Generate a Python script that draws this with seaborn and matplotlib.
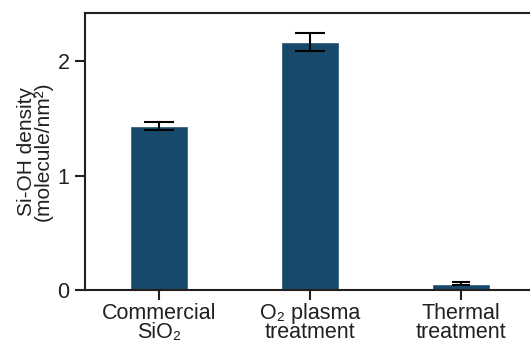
import matplotlib
matplotlib.use("Agg")
import matplotlib.pyplot as plt
import seaborn as sns
import pandas as pd

# Si-OH surface density for three silica treatments
categories = ["Commercial\nSiO\u2082", "O\u2082 plasma\ntreatment", "Thermal\ntreatment"]
density = [1.43, 2.17, 0.055]
density_err = [0.035, 0.078, 0.015]

bar_color = "#174a6a"
ink = "#231f20"
cap_sizes = [10.8, 10.8, 6.8]

sns.set_theme(style="ticks")
plt.rcParams["font.family"] = ["Liberation Sans", "DejaVu Sans"]

df = pd.DataFrame({"treatment": categories, "density": density})

fig = plt.figure(figsize=(5.30, 3.43), dpi=100)
ax = fig.add_axes([0.160, 0.1545, 0.840, 0.8075])

sns.barplot(data=df, x="treatment", y="density", color=bar_color,
            saturation=1, width=0.385, errorbar=None, ax=ax)
for i, (m, e, cs) in enumerate(zip(density, density_err, cap_sizes)):
    ax.errorbar(i, m, yerr=e, fmt="none", ecolor="black",
                elinewidth=1.5, capsize=cs, capthick=1.5)

ax.set_ylim(0, 2.42)
ax.set_xlim(-0.49, 2.46)
ax.set_yticks([0, 1, 2])
ax.set_xlabel("")
ax.set_ylabel("Si-OH density\n(molecule/nm\u00b2)", fontsize=15, color=ink,
              linespacing=0.88, labelpad=3)

for side in ["left", "top", "bottom"]:
    ax.spines[side].set_linewidth(1.5)
    ax.spines[side].set_color(ink)
ax.spines["right"].set_visible(False)
ax.spines["top"].set_visible(True)

ax.tick_params(axis="both", labelsize=15.5, colors=ink, width=1.5, length=7.5)
ax.tick_params(axis="x", pad=2)
for lbl in ax.get_xticklabels():
    lbl.set_linespacing(0.85)

fig.savefig("out.png", dpi=100)
